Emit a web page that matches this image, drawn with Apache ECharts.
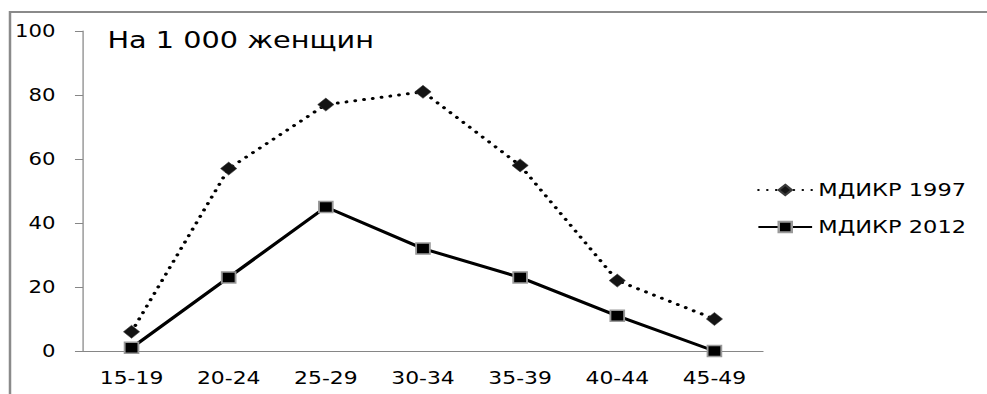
<!DOCTYPE html>
<html>
<head>
<meta charset="utf-8">
<script src="https://cdn.jsdelivr.net/npm/echarts@6/dist/echarts.min.js"></script>
<style>
  html, body { margin: 0; padding: 0; background: #fff; overflow: hidden; }
  /* the chart is laid out narrower and widened to the window, giving the wide lettering */
  #chart { width: 790px; height: 394px; transform: scaleX(1.2494); transform-origin: 0 0; }
</style>
</head>
<body>
<div id="chart"></div>
<script>
// Age groups of mothers
const ageGroups = ['15-19', '20-24', '25-29', '30-34', '35-39', '40-44', '45-49'];
// Rates per 1 000 women
const rates1997 = [6, 57, 77, 81, 58, 22, 10];
const rates2012 = [1, 23, 45, 32, 23, 11, 0];
const seriesNames = ['МДИКР 1997', 'МДИКР 2012'];
const yTicks = { min: 0, max: 100, step: 20 };
const titleText = 'На 1 000 женщин';

const FONT = 'DejaVu Sans';
const AXIS_GRAY = '#868686';

const chart = echarts.init(document.getElementById('chart'), null, { renderer: 'svg' });

chart.setOption({
  backgroundColor: '#ffffff',
  animation: false,
  title: {
    text: titleText,
    left: 81,
    top: 24,
    textStyle: { fontFamily: FONT, fontSize: 23, fontWeight: 'normal', color: '#000' }
  },
  grid: { left: 66.4, right: 179.3, top: 31, bottom: 43 },
  legend: {
    orient: 'vertical',
    left: 601,
    top: 175,
    itemWidth: 43,
    itemHeight: 13,
    itemGap: 17,
    textStyle: { fontFamily: FONT, fontSize: 18, color: '#000', lineHeight: 20, padding: [0, 0, 0, 0] },
    data: seriesNames
  },
  xAxis: {
    type: 'category',
    data: ageGroups,
    boundaryGap: true,
    axisLine: { lineStyle: { color: AXIS_GRAY, width: 1 } },
    axisTick: { length: 8, lineStyle: { color: AXIS_GRAY } },
    axisLabel: { margin: 18, fontFamily: FONT, fontSize: 17.5, color: '#000' },
    splitLine: { show: false }
  },
  yAxis: {
    type: 'value',
    min: yTicks.min,
    max: yTicks.max,
    interval: yTicks.step,
    axisLine: { show: true, lineStyle: { color: AXIS_GRAY, width: 1 } },
    axisTick: { show: true, length: 6.4, lineStyle: { color: AXIS_GRAY } },
    axisLabel: { margin: 22, fontFamily: FONT, fontSize: 17, color: '#000' },
    splitLine: { show: false }
  },
  series: [
    {
      name: seriesNames[0],
      type: 'line',
      data: rates1997,
      symbol: 'diamond',
      symbolSize: 13,
      itemStyle: { color: '#141414', borderColor: '#3a3a3a', borderWidth: 0.5 },
      lineStyle: { color: '#000', width: 3, type: [0.1, 7], cap: 'round' },
      z: 2
    },
    {
      name: seriesNames[1],
      type: 'line',
      data: rates2012,
      symbol: 'rect',
      symbolSize: 11,
      itemStyle: { color: '#000', borderColor: '#9a9a9a', borderWidth: 1.5 },
      lineStyle: { color: '#000', width: 3, type: 'solid' },
      z: 3
    }
  ],
  graphic: [
    {
      type: 'polyline',
      silent: true,
      shape: { points: [[8, 394], [8, 12], [790, 12]] },
      style: { stroke: '#8a8a8a', lineWidth: 2, fill: null }
    }
  ]
});
</script>
</body>
</html>
